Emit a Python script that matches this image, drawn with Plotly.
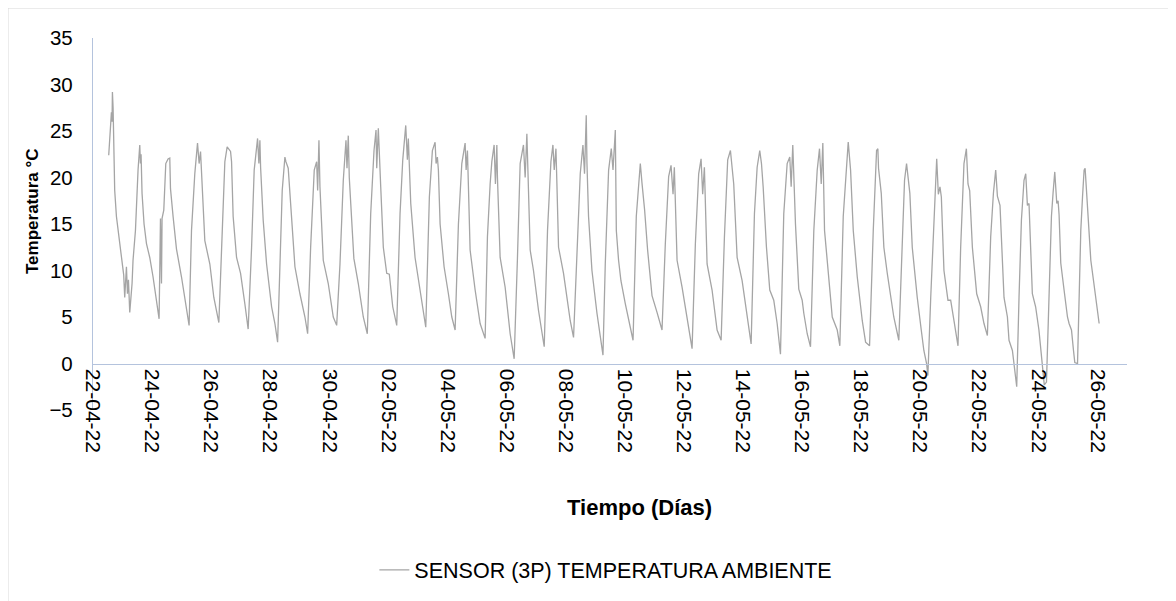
import pandas as pd
import plotly.graph_objects as go

# Tiempo: días transcurridos desde 22-04-2022 00:00
dias = [
    0.532, 0.590, 0.623, 0.645, 0.657, 0.680, 0.735, 0.793, 0.905, 0.983,
    1.040, 1.074, 1.132, 1.166, 1.200, 1.244, 1.322, 1.355, 1.437, 1.525,
    1.583, 1.606, 1.627, 1.660, 1.728, 1.810, 1.921, 2.033, 2.148, 2.237,
    2.284, 2.318, 2.338, 2.396, 2.464, 2.541, 2.599, 2.623, 2.711, 2.826,
    2.996, 3.165, 3.253, 3.334, 3.446, 3.538, 3.592, 3.640, 3.673, 3.728,
    3.785, 3.955, 4.090, 4.260, 4.385, 4.463, 4.541, 4.656, 4.690, 4.744,
    4.859, 4.995, 5.141, 5.252, 5.368, 5.456, 5.571, 5.615, 5.649, 5.673,
    5.761, 5.876, 6.045, 6.157, 6.249, 6.327, 6.405, 6.496, 6.530, 6.608,
    6.632, 6.723, 6.835, 7.004, 7.174, 7.265, 7.367, 7.489, 7.570, 7.604,
    7.648, 7.682, 7.794, 7.963, 8.133, 8.248, 8.360, 8.472, 8.563, 8.597,
    8.641, 8.675, 8.756, 8.830, 8.980, 9.149, 9.285, 9.400, 9.512, 9.580,
    9.604, 9.658, 9.739, 9.827, 9.942, 10.030, 10.146, 10.281, 10.393, 10.485,
    10.586, 10.641, 10.674, 10.756, 10.901, 11.095, 11.264, 11.386, 11.488, 11.579,
    11.613, 11.657, 11.691, 11.749, 11.884, 12.030, 12.145, 12.257, 12.369, 12.484,
    12.596, 12.630, 12.674, 12.708, 12.765, 12.935, 13.104, 13.273, 13.351, 13.443,
    13.500, 13.578, 13.622, 13.670, 13.690, 13.781, 13.951, 14.120, 14.256, 14.368,
    14.459, 14.571, 14.628, 14.686, 14.721, 14.798, 14.910, 15.080, 15.273, 15.385,
    15.500, 15.568, 15.612, 15.670, 15.703, 15.758, 15.927, 16.042, 16.154, 16.266,
    16.401, 16.493, 16.584, 16.638, 16.696, 16.720, 16.774, 16.889, 17.059, 17.171,
    17.262, 17.340, 17.453, 17.544, 17.602, 17.680, 17.714, 17.790, 17.870, 18.019,
    18.131, 18.280, 18.390, 18.526, 18.583, 18.672, 18.773, 18.922, 19.092, 19.261,
    19.373, 19.485, 19.566, 19.634, 19.678, 19.770, 19.939, 20.108, 20.278, 20.390,
    20.502, 20.583, 20.637, 20.695, 20.786, 20.955, 21.125, 21.261, 21.373, 21.484,
    21.576, 21.688, 21.803, 21.972, 22.085, 22.277, 22.389, 22.481, 22.569, 22.627,
    22.684, 22.796, 22.908, 23.043, 23.158, 23.270, 23.382, 23.497, 23.585, 23.632,
    23.687, 23.778, 23.890, 24.005, 24.060, 24.175, 24.287, 24.399, 24.514, 24.592,
    24.650, 24.704, 24.762, 24.874, 25.023, 25.192, 25.280, 25.395, 25.507, 25.564,
    25.643, 25.734, 25.870, 26.039, 26.151, 26.286, 26.411, 26.523, 26.567, 26.590,
    26.682, 26.770, 26.885, 27.020, 27.106, 27.276, 27.392, 27.470, 27.538, 27.596,
    27.650, 27.731, 27.900, 28.036, 28.124, 28.216, 28.260, 28.356, 28.448, 28.502,
    28.559, 28.614, 28.669, 28.716, 28.804, 28.940, 29.031, 29.143, 29.279, 29.370,
    29.482, 29.563, 29.618, 29.675, 29.766, 29.912, 30.047, 30.159, 30.274, 30.386,
    30.478, 30.556, 30.613, 30.701, 30.783, 30.837, 30.952, 31.006, 31.121, 31.267,
    31.345, 31.426, 31.514, 31.572, 31.629, 31.683, 31.796, 31.907, 32.019, 32.134,
    32.200, 32.274, 32.395, 32.442, 32.497, 32.555, 32.623, 32.667, 32.701, 32.758,
    32.870, 32.985, 33.039, 33.121, 33.189, 33.233, 33.325, 33.379, 33.436, 33.494,
    33.548, 33.582, 33.629, 33.684, 33.775, 33.867, 33.945, 34.057,
]

# Temperatura ambiente (°C)
temperatura = [
    22.4, 25.3, 27.0, 26.0, 29.2, 27.5, 18.6, 15.8, 12.9, 11.1,
    9.5, 7.1, 10.4, 7.5, 9.0, 5.5, 8.6, 11.1, 14.3, 20.8,
    23.5, 21.5, 22.5, 18.3, 15.0, 12.9, 11.4, 9.3, 6.4, 4.8,
    15.6, 8.6, 15.6, 16.5, 21.5, 22.0, 22.1, 18.8, 15.8, 12.3,
    9.3, 6.1, 4.1, 14.3, 20.4, 23.7, 21.5, 22.8, 20.4, 17.2,
    13.2, 10.7, 7.1, 4.4, 14.3, 21.7, 23.3, 22.8, 21.7, 15.8,
    11.4, 9.7, 6.4, 3.7, 12.5, 20.8, 24.2, 21.5, 24.0, 21.1,
    15.4, 10.7, 6.1, 4.3, 2.3, 10.0, 18.6, 22.2, 21.7, 21.0,
    19.9, 15.0, 10.4, 7.5, 5.0, 3.2, 12.5, 20.8, 21.7, 18.6,
    24.0, 19.0, 11.1, 8.6, 5.0, 4.1, 10.7, 19.7, 24.0, 21.0,
    24.5, 20.0, 15.8, 11.3, 8.6, 5.0, 3.2, 16.1, 22.9, 25.1,
    21.0, 25.3, 19.0, 12.5, 9.7, 9.6, 6.1, 4.1, 16.1, 21.9,
    25.6, 21.9, 24.2, 17.2, 11.4, 7.1, 3.9, 17.9, 22.9, 23.8,
    21.5, 22.2, 20.8, 15.0, 10.4, 7.5, 5.0, 3.6, 15.0, 21.5,
    23.7, 20.8, 22.9, 19.0, 12.2, 7.9, 4.3, 2.7, 13.6, 19.3,
    21.7, 23.5, 19.3, 23.5, 20.0, 11.4, 8.2, 3.2, 0.5, 11.4,
    21.5, 23.5, 20.0, 24.7, 20.8, 12.2, 10.0, 5.7, 1.8, 14.3,
    21.7, 23.5, 20.8, 23.1, 19.3, 12.5, 9.7, 7.1, 4.6, 2.8,
    12.5, 20.4, 23.5, 20.4, 26.7, 21.5, 15.8, 10.0, 5.4, 2.8,
    0.9, 10.7, 20.8, 23.1, 20.8, 25.1, 14.3, 11.1, 8.9, 6.4,
    4.6, 2.5, 15.8, 21.5, 19.4, 16.5, 12.2, 7.3, 5.5, 3.6,
    12.9, 20.1, 21.3, 18.2, 21.1, 11.1, 8.2, 5.0, 1.6, 12.9,
    20.4, 22.0, 18.2, 21.1, 10.7, 7.9, 3.6, 2.5, 13.6, 21.9,
    22.9, 19.3, 11.4, 8.9, 6.4, 2.1, 16.1, 21.1, 22.9, 21.5,
    19.0, 12.5, 7.9, 6.8, 4.3, 1.0, 16.1, 21.5, 22.2, 19.0,
    23.5, 15.0, 8.0, 6.8, 5.4, 3.2, 1.8, 14.3, 20.8, 23.1,
    19.3, 23.7, 14.3, 10.0, 5.0, 3.6, 1.9, 15.8, 21.5, 23.8,
    20.8, 14.3, 9.3, 4.6, 2.3, 1.9, 14.3, 22.9, 23.1, 21.0,
    18.3, 12.5, 9.7, 7.1, 5.0, 2.5, 14.3, 19.7, 21.5, 19.7,
    18.3, 12.5, 7.1, 3.6, 1.4, 0.0, -1.3, 7.1, 14.3, 19.3,
    22.0, 18.2, 19.0, 17.9, 10.0, 6.8, 6.8, 4.6, 1.9, 12.5,
    21.5, 23.1, 19.3, 18.6, 12.5, 7.5, 6.1, 4.3, 3.0, 13.6,
    18.3, 20.8, 18.0, 17.0, 10.7, 7.1, 5.0, 2.5, 1.4, -2.5,
    7.1, 15.4, 19.7, 20.4, 17.0, 17.2, 7.5, 6.1, 3.6, -0.7,
    -2.3, -2.0, 10.0, 15.8, 18.3, 20.6, 17.2, 17.5, 16.0, 10.8,
    7.9, 5.0, 4.3, 3.6, 1.4, 0.1, 0.0, 7.1, 14.3, 17.9,
    20.8, 21.0, 18.3, 15.8, 11.1, 8.9, 7.1, 4.3,
]

fecha_inicio = "2022-04-22"
fecha_fin = "2022-05-27"
nombre_serie = "SENSOR (3P) TEMPERATURA AMBIENTE"

fechas = pd.Timestamp(fecha_inicio) + pd.to_timedelta(dias, unit="D")

FONT = "Liberation Sans, Arial, sans-serif"
AXIS_COLOR = "#B4C3DD"

fig = go.Figure()
fig.add_trace(go.Scatter(
    x=fechas, y=temperatura, mode="lines", name=nombre_serie,
    line=dict(color="#A5A5A5", width=1.3),
    showlegend=True,
))

fig.update_layout(
    width=1176, height=601,
    margin=dict(l=85, r=57, t=30, b=199),
    paper_bgcolor="white", plot_bgcolor="white",
    font=dict(family=FONT, color="#000000", size=21),
    xaxis=dict(
        type="date",
        range=[fecha_inicio, fecha_fin],
        tick0=fecha_inicio, dtick=2 * 86400000,
        tickformat="%d-%m-%y", tickangle=90,
        tickfont=dict(size=21, color="#000000"),
        showgrid=False, zeroline=False,
        showline=True, linecolor=AXIS_COLOR, linewidth=1.3,
        ticks="", anchor="free", position=5 / 40,
    ),
    yaxis=dict(
        range=[-5, 35], dtick=5, tick0=0,
        tickfont=dict(size=20.5, color="#000000"),
        showgrid=False, zeroline=False,
        showline=True, linecolor=AXIS_COLOR, linewidth=1.3,
        ticks="", ticklabelstandoff=15,
    ),
    legend=dict(
        orientation="h", x=0.496, xanchor="center", y=-0.43, yanchor="middle",
        font=dict(size=21.5, color="#000000"), bgcolor="rgba(0,0,0,0)",
    ),
    annotations=[
        dict(text="<b>Temperatura °C</b>", xref="paper", yref="paper",
             x=-0.058, y=0.535, textangle=-90, showarrow=False,
             font=dict(size=17, color="#000000"), xanchor="center", yanchor="middle"),
        dict(text="<b>Tiempo (Días)</b>", xref="paper", yref="paper",
             x=0.529, y=-0.263, showarrow=False,
             font=dict(size=22, color="#000000"), xanchor="center", yanchor="middle"),
    ],
    shapes=[
        dict(type="rect", xref="paper", yref="paper",
             x0=-0.0822, y0=1.0806, x1=1.2, y1=-1.0,
             line=dict(color="#D9D9D9", width=1), fillcolor="rgba(0,0,0,0)",
             layer="below"),
    ],
)

fig.write_html("out.html")
